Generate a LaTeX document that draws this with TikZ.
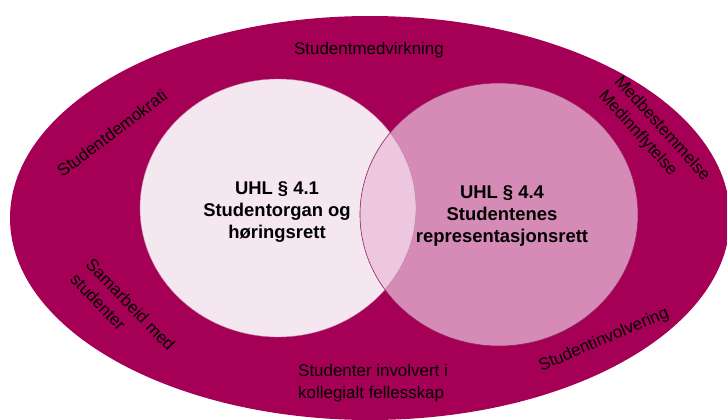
\documentclass[tikz,border=0pt]{standalone}
\usepackage{fontspec}
\setmainfont{Liberation Sans}
\definecolor{outerc}{HTML}{A50055}
\definecolor{leftc}{HTML}{F5E7F0}
\definecolor{rightc}{HTML}{D68AB6}
\definecolor{overc}{HTML}{ECC7DF}
\definecolor{edgec}{HTML}{8E2360}
\begin{document}
\begin{tikzpicture}[x=1bp,y=1bp,
  lawtext/.style={align=center, inner sep=0pt, font=\fontsize{18.5}{22.5}\selectfont\bfseries, text=black},
  ringtext/.style={inner sep=0pt, font=\fontsize{17}{21.5}\selectfont, text=black}]
\useasboundingbox (0,0) rectangle (727,419);
\clip (0,0) rectangle (727,419);
\fill[white] (0,0) rectangle (727,419);
% outer ellipse
\fill[outerc] (370,201) ellipse [x radius=360, y radius=202];
% left circle
\fill[leftc] (278,211) ellipse [x radius=138, y radius=129];
% right circle
\fill[rightc] (499,204.5) ellipse [x radius=139, y radius=131.5];
% overlap
\begin{scope}
  \clip (278,211) ellipse [x radius=138, y radius=129];
  \fill[overc] (499,204.5) ellipse [x radius=139, y radius=131.5];
\end{scope}
\draw[edgec, line width=0.6bp] (499,204.5) ellipse [x radius=139, y radius=131.5];
\draw[edgec!60, line width=0.4bp] (278,211) ellipse [x radius=138, y radius=129];
% texts
\node[lawtext] (l41) at (277,207) {UHL § 4.1\\Studentorgan og\\høringsrett};
\node[lawtext] (l44) at (502,203) {UHL § 4.4\\Studentenes\\representasjonsrett};
\node[ringtext] (medv) at (369,369) {Studentmedvirkning};
\node[ringtext, rotate=37] (demo) at (112,286) {Studentdemokrati};
\node[ringtext, rotate=-48, align=left] (medb) at (654,283) {Medbestemmelse\\Medinnflytelse};
\node[ringtext, rotate=-46, align=left] (samb) at (123,107) {Samarbeid med\\studenter};
\node[ringtext, rotate=23] (invo) at (604,79) {Studentinvolvering};
\node[ringtext, anchor=west, align=left] (koll) at (298,36) {Studenter involvert i\\kollegialt fellesskap};
\end{tikzpicture}
\end{document}
